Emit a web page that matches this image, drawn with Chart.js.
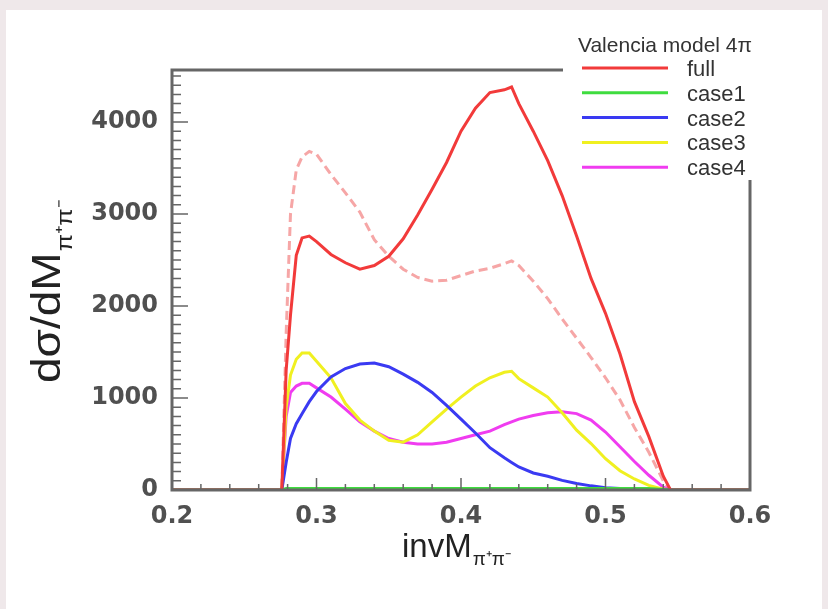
<!DOCTYPE html>
<html>
<head>
<meta charset="utf-8">
<script src="https://cdn.jsdelivr.net/npm/chart.js@4.4.1/dist/chart.umd.min.js"></script>
<style>
  html, body { margin: 0; padding: 0; background: #efe8ea; }
  canvas { display: block; }
</style>
</head>
<body>
<canvas id="c" width="828" height="609"></canvas>
<script>
// invM(pi+pi-) bins
const xs = [0.2, 0.276, 0.279, 0.282, 0.286, 0.29, 0.295, 0.30, 0.31, 0.32, 0.33, 0.34, 0.35, 0.36, 0.37, 0.38, 0.39, 0.40,
  0.41, 0.42, 0.43, 0.435, 0.44, 0.45, 0.46, 0.47, 0.48, 0.49, 0.50, 0.51, 0.52, 0.53, 0.54, 0.545, 0.6];

const full = [0, 0, 1300, 1900, 2550, 2740, 2760, 2700, 2560, 2470, 2400, 2440, 2540, 2730, 2990, 3270, 3560, 3900,
  4150, 4320, 4350, 4380, 4200, 3900, 3580, 3200, 2760, 2300, 1920, 1480, 960, 580, 150, 0, 0];
const fullDashed = [0, 0, 1700, 3000, 3480, 3620, 3680, 3650, 3430, 3230, 3020, 2720, 2540, 2400, 2310, 2270, 2280, 2330,
  2380, 2410, 2460, 2490, 2440, 2270, 2080, 1860, 1650, 1440, 1220, 980, 680, 410, 100, 0, 0];
const case1 = [0, 0, 15, 15, 15, 15, 15, 15, 15, 15, 15, 15, 15, 15, 15, 15, 15, 15,
  15, 15, 15, 15, 15, 15, 15, 15, 15, 15, 15, 15, 15, 15, 5, 0, 0];
const case2 = [0, 0, 300, 560, 720, 830, 960, 1070, 1230, 1320, 1370, 1380, 1340, 1260, 1170, 1060, 920, 770,
  620, 460, 350, 300, 250, 185, 150, 105, 70, 45, 25, 15, 5, 0, 0, 0, 0];
const case3 = [0, 0, 900, 1250, 1420, 1490, 1490, 1400, 1220, 940, 760, 640, 540, 520, 600, 740, 880, 1010,
  1130, 1220, 1280, 1290, 1210, 1110, 1010, 840, 650, 505, 340, 210, 120, 50, 10, 0, 0];
const case4 = [0, 0, 800, 1060, 1130, 1160, 1160, 1110, 1010, 880, 740, 640, 560, 520, 500, 500, 520, 560,
  600, 640, 710, 740, 770, 810, 840, 850, 830, 760, 630, 470, 310, 160, 30, 0, 0];

const xTicks = [0.2, 0.3, 0.4, 0.5, 0.6];
const yTicks = [0, 1000, 2000, 3000, 4000];
const legendTitle = 'Valencia model 4π';

const pts = arr => arr.map((v, i) => ({ x: xs[i], y: v }));

function line(label, arr, color, extra) {
  return Object.assign({
    label: label,
    data: pts(arr),
    borderColor: color,
    borderWidth: 3,
    pointRadius: 0,
    tension: 0,
    fill: false
  }, extra || {});
}

// background panel + frame + inward ticks (ROOT style)
const frame = {
  id: 'frame',
  beforeDraw(chart) {
    const ctx = chart.ctx;
    ctx.save();
    ctx.fillStyle = '#efe8ea';
    ctx.fillRect(0, 0, chart.width, chart.height);
    ctx.fillStyle = '#ffffff';
    ctx.fillRect(6, 10, 816, chart.height - 10);
    ctx.restore();
  },
  afterDatasetsDraw(chart) {
    const ctx = chart.ctx;
    const a = chart.chartArea;
    const xs_ = chart.scales.x, ys_ = chart.scales.y;
    ctx.save();
    ctx.strokeStyle = '#666';
    ctx.lineWidth = 1.5;
    ctx.beginPath();
    for (let v = 0.2; v <= 0.6001; v += 0.02) {
      const px = xs_.getPixelForValue(v);
      const major = Math.abs(v * 10 - Math.round(v * 10)) < 1e-6;
      ctx.moveTo(px, a.bottom);
      ctx.lineTo(px, a.bottom - (major ? 12 : 6));
    }
    for (let v = 0; v <= ys_.max; v += 100) {
      const py = ys_.getPixelForValue(v);
      const major = v % 1000 === 0;
      ctx.moveTo(a.left, py);
      ctx.lineTo(a.left + (major ? 16 : 9), py);
    }
    ctx.stroke();
    ctx.lineWidth = 3;
    ctx.strokeRect(a.left, a.top, a.right - a.left, a.bottom - a.top);
    ctx.restore();
  },
  afterDraw(chart) {
    const ctx = chart.ctx;
    ctx.save();
    // legend box
    ctx.fillStyle = '#ffffff';
    ctx.fillRect(563, 12, 259, 168);
    ctx.fillStyle = '#333';
    ctx.font = '21px "Liberation Sans", Arial, sans-serif';
    ctx.textAlign = 'center';
    ctx.textBaseline = 'alphabetic';
    ctx.fillText(legendTitle, 665, 52);
    ctx.textAlign = 'left';
    ctx.textBaseline = 'middle';
    ctx.font = '22px "Liberation Sans", Arial, sans-serif';
    let y = 68;
    chart.data.datasets.forEach(ds => {
      if (ds.noLegend) return;
      ctx.strokeStyle = ds.borderColor;
      ctx.lineWidth = 3;
      ctx.beginPath();
      ctx.moveTo(582, y);
      ctx.lineTo(668, y);
      ctx.stroke();
      ctx.fillStyle = '#333';
      ctx.fillText(ds.label, 687, y + 2);
      y += 24.8;
    });
    // axis titles
    ctx.fillStyle = '#222';
    ctx.textAlign = 'left';
    ctx.textBaseline = 'alphabetic';
    ctx.save();
    ctx.translate(60, 383);
    ctx.rotate(-Math.PI / 2);
    ctx.scale(1.15, 1);
    ctx.font = '40px "Liberation Sans", Arial, sans-serif';
    ctx.fillText('dσ/dM', 0, 0);
    const w = ctx.measureText('dσ/dM').width;
    ctx.font = '22px "Liberation Sans", Arial, sans-serif';
    ctx.fillText('π⁺π⁻', w + 1, 12);
    ctx.restore();
    ctx.font = '33px "Liberation Sans", Arial, sans-serif';
    ctx.fillText('invM', 402, 557);
    const w2 = ctx.measureText('invM').width;
    ctx.font = '19px "Liberation Sans", Arial, sans-serif';
    ctx.fillText('π⁺π⁻', 402 + w2 + 1, 565);
    ctx.restore();
  }
};

new Chart(document.getElementById('c'), {
  type: 'line',
  data: {
    datasets: [
      line('full', full, '#f23a3a'),
      line('case1', case1, '#3fdc3f'),
      line('case2', case2, '#3a3af2'),
      line('case3', case3, '#f0f020'),
      line('case4', case4, '#f03cf0'),
      line('', fullDashed, '#f6a6a6', { borderDash: [9, 5], noLegend: true })
    ]
  },
  options: {
    responsive: false,
    animation: false,
    devicePixelRatio: 1,
    layout: { padding: { left: 0, right: 78, top: 70, bottom: 0 } },
    plugins: { legend: { display: false }, tooltip: { enabled: false } },
    scales: {
      x: {
        type: 'linear',
        min: 0.2,
        max: 0.6,
        grid: { display: false },
        border: { display: false },
        afterBuildTicks: s => { s.ticks = xTicks.map(v => ({ value: v })); },
        afterFit: s => { s.height = 119; },
        ticks: {
          padding: 4,
          autoSkip: false,
          maxRotation: 0,
          color: '#505050',
          font: { family: 'DejaVu Sans', size: 24, weight: 'bold' },
          callback: v => v.toFixed(1)
        }
      },
      y: {
        min: 0,
        max: 4565,
        grid: { display: false },
        border: { display: false },
        afterBuildTicks: s => { s.ticks = yTicks.map(v => ({ value: v })); },
        afterFit: s => { s.width = 172; },
        ticks: {
          padding: 6,
          color: '#505050',
          font: { family: 'DejaVu Sans', size: 24, weight: 'bold' },
          callback: v => String(v)
        }
      }
    }
  },
  plugins: [frame]
});
</script>
</body>
</html>
